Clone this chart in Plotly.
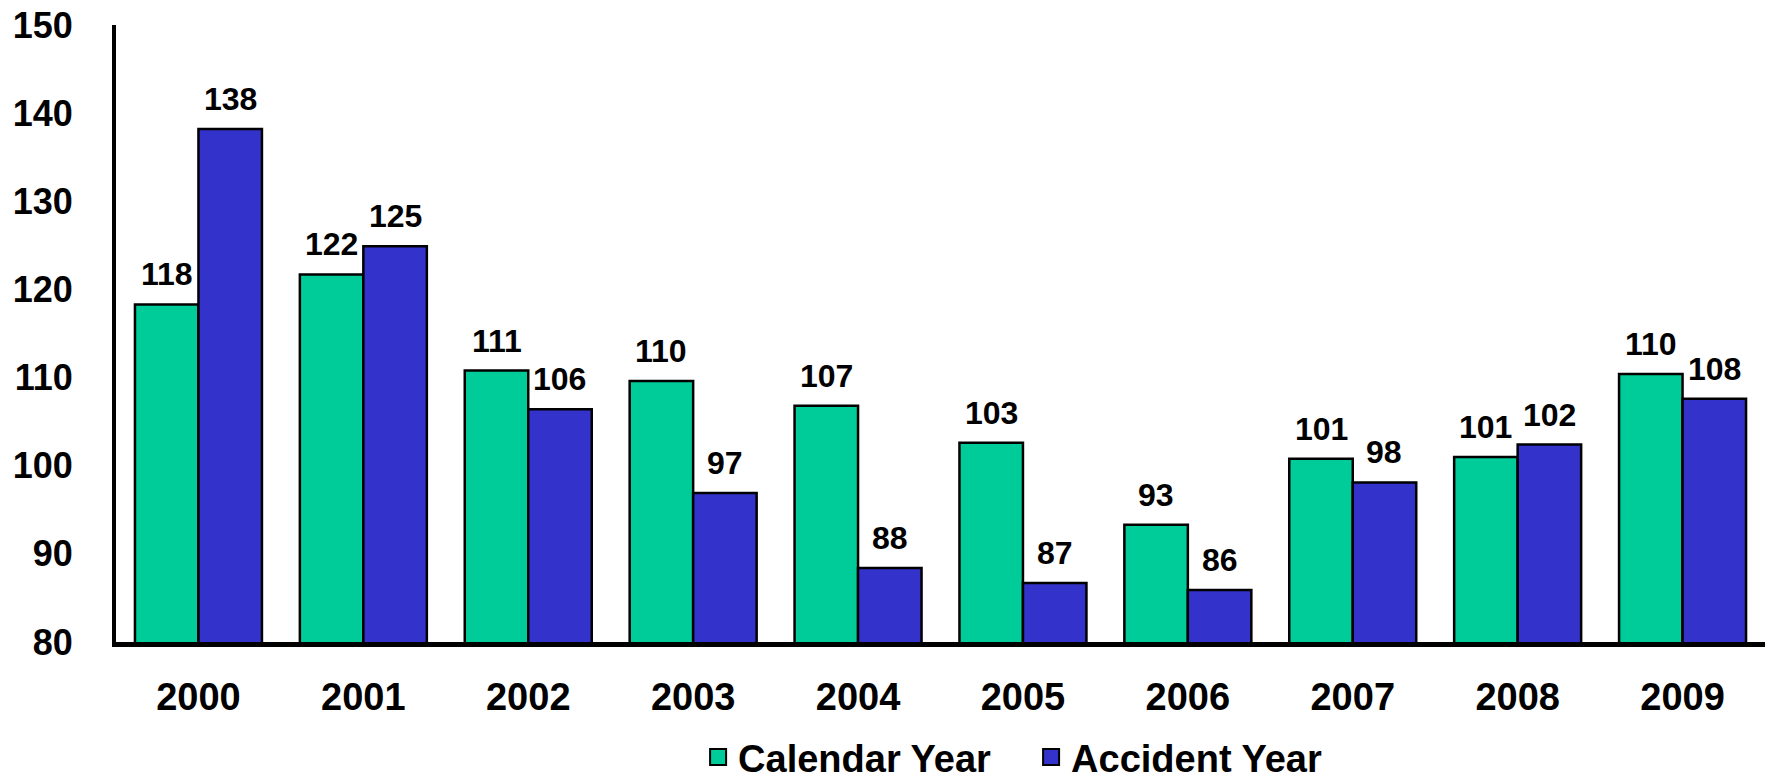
import plotly.graph_objects as go

years = ["2000", "2001", "2002", "2003", "2004", "2005", "2006", "2007", "2008", "2009"]
calendar_year = [118.3, 121.7, 110.8, 109.6, 106.8, 102.6, 93.3, 100.8, 101.0, 110.4]
accident_year = [138.2, 124.9, 106.4, 96.9, 88.4, 86.7, 85.9, 98.1, 102.4, 107.6]
series_names = ["Calendar Year", "Accident Year"]
y_ticks = [80, 90, 100, 110, 120, 130, 140, 150]

GREEN = "#00CC99"
BLUE = "#3333CC"
FONT = "Liberation Sans"
BARGAP = 0.23

fig = go.Figure()
for name, vals, col in [(series_names[0], calendar_year, GREEN),
                        (series_names[1], accident_year, BLUE)]:
    fig.add_trace(go.Bar(
        x=years, y=vals, name=name, showlegend=False,
        marker=dict(color=col, line=dict(color="black", width=2.5)),
        hoverinfo="x+y+name",
    ))
# legend entries with larger square swatches
for name, col in [(series_names[0], GREEN), (series_names[1], BLUE)]:
    fig.add_trace(go.Scatter(
        x=[None], y=[None], mode="markers", name=name,
        marker=dict(symbol="square", size=20, color=col, line=dict(color="black", width=2)),
    ))

# data labels above each bar
half = (1 - BARGAP) / 4.0
annotations = []
for k, vals in enumerate([calendar_year, accident_year]):
    off = -half if k == 0 else half
    for i, v in enumerate(vals):
        annotations.append(dict(
            x=i + off, y=v, xref="x", yref="y",
            text=f"{round(v)}", showarrow=False,
            yanchor="bottom", xanchor="center", yshift=10,
            font=dict(family=FONT, size=32, color="black", weight="bold"),
        ))

fig.update_layout(
    width=1770, height=779,
    margin=dict(l=116, r=5, t=25, b=137, autoexpand=False),
    paper_bgcolor="white", plot_bgcolor="white",
    barmode="group", bargap=BARGAP, bargroupgap=0,
    font=dict(family=FONT, size=36, color="black", weight="bold"),
    showlegend=True,
    legend=dict(orientation="h", x=0.353, y=-0.187, xanchor="left", yanchor="middle",
                font=dict(family=FONT, size=38, color="black", weight="bold"),
                entrywidth=288, entrywidthmode="pixels",
                itemsizing="trace", bgcolor="rgba(0,0,0,0)"),
    annotations=annotations,
)
fig.update_xaxes(
    type="category", showline=True, linecolor="black", linewidth=5,
    showgrid=False, ticks="", ticklabelstandoff=17,
    tickfont=dict(family=FONT, size=38, color="black", weight="bold"),
    range=[-0.5, len(years) - 0.5],
)
fig.update_yaxes(
    range=[80, 150], tickvals=y_ticks, showline=True, linecolor="black", linewidth=4,
    showgrid=False, zeroline=False, ticks="", ticklabelstandoff=32,
    tickfont=dict(family=FONT, size=36, color="black", weight="bold"),
)

fig.write_html("out.html")
